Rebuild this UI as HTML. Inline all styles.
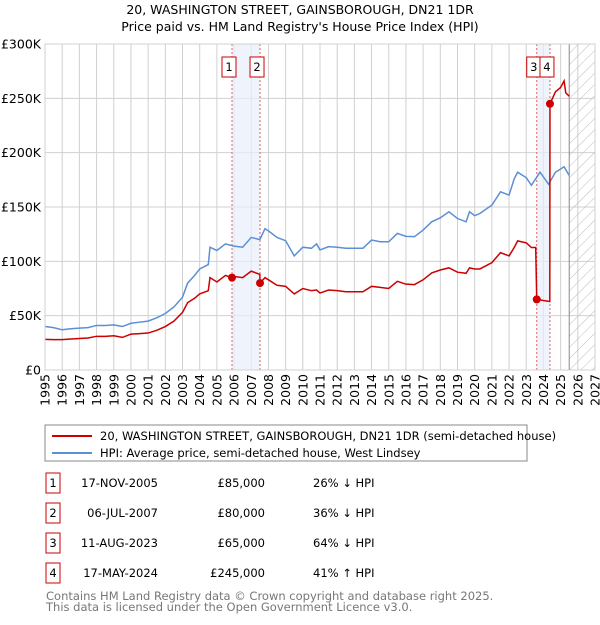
<!DOCTYPE html>
<html><head><meta charset="utf-8"><style>
body{margin:0;background:#fff;font-family:"Liberation Sans","DejaVu Sans",sans-serif;}
svg text{font-family:"DejaVu Sans","Liberation Sans",sans-serif;}
</style></head><body>
<svg id="chart" width="600" height="620" viewBox="0 0 600 620" xmlns="http://www.w3.org/2000/svg">
<defs><pattern id="hatch" width="8" height="8" patternUnits="userSpaceOnUse" patternTransform="rotate(45)"><line x1="0" y1="0" x2="0" y2="8" stroke="#bbb" stroke-width="1"/></pattern></defs>
<text x="300" y="14" text-anchor="middle" font-size="12.5">20, WASHINGTON STREET, GAINSBOROUGH, DN21 1DR</text>
<text x="300" y="31" text-anchor="middle" font-size="12.5">Price paid vs. HM Land Registry's House Price Index (HPI)</text>
<g id="grid"></g><g id="bands"></g><g id="series"></g><g id="axes"></g>
<rect x="45" y="425" width="482" height="36" fill="none" stroke="#888"/>
<line x1="52" y1="436" x2="92" y2="436" stroke="#cc0000" stroke-width="2"/>
<text x="100" y="440" font-size="11.5">20, WASHINGTON STREET, GAINSBOROUGH, DN21 1DR (semi-detached house)</text>
<line x1="52" y1="453" x2="92" y2="453" stroke="#5b8fd6" stroke-width="2"/>
<text x="100" y="457" font-size="11.5">HPI: Average price, semi-detached house, West Lindsey</text>
<g id="table" font-size="11.5"></g>
<text x="46" y="600" font-size="11.5" fill="#777">Contains HM Land Registry data © Crown copyright and database right 2025.</text>
<text x="46" y="611" font-size="11.5" fill="#777">This data is licensed under the Open Government Licence v3.0.</text>
</svg>
<script>
const yearTicks=[1995,1996,1997,1998,1999,2000,2001,2002,2003,2004,2005,2006,2007,2008,2009,2010,2011,2012,2013,2014,2015,2016,2017,2018,2019,2020,2021,2022,2023,2024,2025,2026,2027];
const valueTicks=[0,50,100,150,200,250,300];
const valueTickLabels=["£0","£50K","£100K","£150K","£200K","£250K","£300K"];
const hpiYears=[1995,1995.5,1996,1996.5,1997,1997.5,1998,1998.5,1999,1999.5,2000,2000.5,2001,2001.5,2002,2002.5,2003,2003.3,2003.7,2004,2004.5,2004.6,2005,2005.5,2006,2006.5,2007,2007.5,2007.8,2008,2008.5,2009,2009.5,2010,2010.5,2010.8,2011,2011.5,2012,2012.5,2013,2013.5,2014,2014.5,2015,2015.5,2016,2016.5,2017,2017.5,2018,2018.5,2019,2019.5,2019.7,2020,2020.3,2021,2021.5,2022,2022.3,2022.5,2023,2023.3,2023.8,2024.3,2024.7,2025.2,2025.5];
const hpiValues=[40,39,37,38,38.5,39,41,41,41.5,40,43,44,45,48,52,58,67,80,87,93,97,113,110,116,114,113,122,120,130,128,122,119,105,113,112,116,110.5,113.5,113,112,112,112,119.6,118,118,125.7,123,122.7,128.8,136.4,140,145.6,139.4,136.4,145.6,142,144,151.7,164,161,176,182,177,170,182,171,182,187,179];
const ppYears=[1995,1995.5,1996,1996.5,1997,1997.5,1998,1998.5,1999,1999.5,2000,2000.5,2001,2001.5,2002,2002.5,2003,2003.3,2003.7,2004,2004.5,2004.6,2005,2005.5,2005.88,2006,2006.5,2007,2007.5,2007.51,2007.8,2008,2008.5,2009,2009.5,2010,2010.5,2010.8,2011,2011.5,2012,2012.5,2013,2013.5,2014,2014.5,2015,2015.5,2016,2016.5,2017,2017.5,2018,2018.5,2019,2019.5,2019.7,2020,2020.3,2021,2021.5,2022,2022.3,2022.5,2023,2023.3,2023.55,2023.61,2024,2024.37,2024.38,2024.7,2025,2025.2,2025.3,2025.5];
const ppValues=[28.2,28,28,28.5,29,29.5,31,31,31.5,30,33,33.5,34,36.5,40,45,53,62,66,70,73,85,81,87,85,86,85,91,88,80,85,83,78,77,70,75,73,73.6,70.8,73.6,73,72,72,72,77,76,75,81.6,79,78.6,83,89.3,92,94,90,89,94,93,93,98.8,108,105,112.7,118.8,117,112.7,112.7,65,64,63,245,256,260,266,255,252];
const saleYears=[2005.88,2007.51,2023.61,2024.38];
const saleValues=[85,80,65,245];
const saleLabels=["1","2","3","4"];
const saleDates=["17-NOV-2005","06-JUL-2007","11-AUG-2023","17-MAY-2024"];
const salePrices=["£85,000","£80,000","£65,000","£245,000"];
const saleHpi=["26% ↓ HPI","36% ↓ HPI","64% ↓ HPI","41% ↑ HPI"];
const dataEnd=2025.5;

const X0=45,X1=595,Y0=370,Y1=44;
const x=y=>X0+(y-1995)/(2027-1995)*(X1-X0);
const yv=v=>Y0-v/300*(Y0-Y1);
const NS="http://www.w3.org/2000/svg";
function mk(parent,tag,attrs){const e=document.createElementNS(NS,tag);for(const k in attrs)e.setAttribute(k,attrs[k]);document.getElementById(parent).appendChild(e);return e;}

yearTicks.forEach(t=>{const l=mk('grid','line',{x1:x(t),x2:x(t),y1:Y1,y2:Y0,stroke:'#d0d0d0'});

});
valueTicks.forEach(t=>{const l=mk('grid','line',{x1:X0,x2:X1,y1:yv(t),y2:yv(t),stroke:'#d0d0d0'});

});

[[0,1],[2,3]].forEach(p=>{const r=mk('bands','rect',{x:x(saleYears[p[0]]),y:Y1,width:x(saleYears[p[1]])-x(saleYears[p[0]]),height:Y0-Y1,fill:'#e8effb',opacity:0.7});

});
const h=mk('bands','rect',{x:x(dataEnd),y:Y1,width:X1-x(dataEnd),height:Y0-Y1,fill:'url(#hatch)'});


const dl=mk('bands','line',{x1:x(dataEnd),x2:x(dataEnd),y1:Y1,y2:Y0,stroke:'#888'});


saleYears.forEach((s,i)=>{const l=mk('bands','line',{x1:x(s),x2:x(s),y1:Y1,y2:Y0,stroke:'#e06060','stroke-dasharray':'2,2'});


const cx=x(s)-3;
const b=mk('bands','rect',{x:cx-7,y:57,width:14,height:20,fill:'#fff',stroke:'#cc0000'});


const t=mk('bands','text',{x:cx,y:71,'text-anchor':'middle','font-size':'11.5'});t.textContent=saleLabels[i];

});

const hp=mk('series','polyline',{points:hpiYears.map((d,i)=>x(d)+','+yv(hpiValues[i])).join(' '),fill:'none',stroke:'#5b8fd6','stroke-width':1.5});


const pp=mk('series','polyline',{points:ppYears.map((d,i)=>x(d)+','+yv(ppValues[i])).join(' '),fill:'none',stroke:'#cc0000','stroke-width':1.5});


saleYears.forEach((s,i)=>{const c=mk('series','circle',{cx:x(s),cy:yv(saleValues[i]),r:4,fill:'#cc0000'});

});

mk('axes','rect',{x:X0,y:Y1,width:X1-X0,height:Y0-Y1,fill:'none',stroke:'#d0d0d0'});
valueTicks.forEach((t,i)=>{const e=mk('axes','text',{x:41,y:yv(t)+4.5,'text-anchor':'end','font-size':'12.5'});e.textContent=valueTickLabels[i];

});
yearTicks.forEach(t=>{const e=mk('axes','text',{x:0,y:0,'text-anchor':'end','font-size':'12.5',transform:`translate(${x(t)+4.5},374) rotate(-90)`});e.textContent=t;

});

const rowsY=[483,513,543,573];
saleLabels.forEach((l,i)=>{const yy=rowsY[i];
const b=mk('table','rect',{x:46,y:yy-10,width:14,height:20,fill:'none',stroke:'#cc0000'});


const a=mk('table','text',{x:53,y:yy+4,'text-anchor':'middle'});a.textContent=l;


const d=mk('table','text',{x:158,y:yy+4,'text-anchor':'end'});d.textContent=saleDates[i];


const p=mk('table','text',{x:265,y:yy+4,'text-anchor':'end'});p.textContent=salePrices[i];


const q=mk('table','text',{x:313,y:yy+4});q.textContent=saleHpi[i];

});
</script>
</body></html>
